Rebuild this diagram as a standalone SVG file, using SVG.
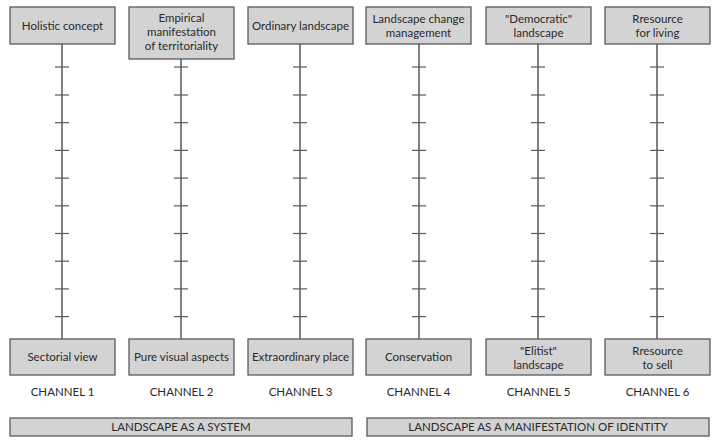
<svg xmlns="http://www.w3.org/2000/svg" width="713" height="445" viewBox="0 0 713 445">
  <style>
    .box { fill: #d3d3d3; stroke: #5a5a5a; stroke-width: 1.3; }
    .lbl { font-family: Lato, "Liberation Sans", sans-serif; font-size: 11.5px; fill: #2a2a2a; text-anchor: middle; }
    .axis { stroke: #4a4a4a; stroke-width: 1.4; fill: none; }
    .tick { stroke: #5a5a5a; stroke-width: 1.2; }
  </style>
  <defs>
    <g id="ticks">
      <line class="tick" x1="-7" y1="67" x2="7" y2="67"/>
      <line class="tick" x1="-7" y1="95" x2="7" y2="95"/>
      <line class="tick" x1="-7" y1="122.7" x2="7" y2="122.7"/>
      <line class="tick" x1="-7" y1="150.4" x2="7" y2="150.4"/>
      <line class="tick" x1="-7" y1="178.1" x2="7" y2="178.1"/>
      <line class="tick" x1="-7" y1="205.8" x2="7" y2="205.8"/>
      <line class="tick" x1="-7" y1="233.5" x2="7" y2="233.5"/>
      <line class="tick" x1="-7" y1="261.2" x2="7" y2="261.2"/>
      <line class="tick" x1="-7" y1="288.9" x2="7" y2="288.9"/>
      <line class="tick" x1="-7" y1="316.6" x2="7" y2="316.6"/>
    </g>
  </defs>
  <rect width="713" height="445" fill="#ffffff"/>

  <!-- channel axes with scale ticks -->
  <g id="connectors">
    <line class="axis" x1="62" y1="44" x2="62" y2="339"/>
    <line class="axis" x1="181" y1="59" x2="181" y2="339"/>
    <line class="axis" x1="300" y1="44" x2="300" y2="339"/>
    <line class="axis" x1="419" y1="44" x2="419" y2="339"/>
    <line class="axis" x1="538" y1="44" x2="538" y2="339"/>
    <line class="axis" x1="657" y1="44" x2="657" y2="339"/>
    <use href="#ticks" x="62"/>
    <use href="#ticks" x="181"/>
    <use href="#ticks" x="300"/>
    <use href="#ticks" x="419"/>
    <use href="#ticks" x="538"/>
    <use href="#ticks" x="657"/>
  </g>

  <!-- top poles -->
  <g id="top1"><rect class="box" x="10" y="7" width="105" height="37"/><text class="lbl" x="62.5" y="30">Holistic concept</text></g>
  <g id="top2"><rect class="box" x="129" y="7" width="105" height="52"/>
    <text class="lbl" x="181.5" y="22">Empirical</text><text class="lbl" x="181.5" y="36">manifestation</text><text class="lbl" x="181.5" y="50">of territoriality</text></g>
  <g id="top3"><rect class="box" x="248" y="7" width="105" height="37"/><text class="lbl" x="300.5" y="30">Ordinary landscape</text></g>
  <g id="top4"><rect class="box" x="366" y="7" width="105" height="37"/>
    <text class="lbl" x="418.5" y="23">Landscape change</text><text class="lbl" x="418.5" y="37">management</text></g>
  <g id="top5"><rect class="box" x="486" y="7" width="105" height="37"/>
    <text class="lbl" x="538.5" y="23">"Democratic"</text><text class="lbl" x="538.5" y="37">landscape</text></g>
  <g id="top6"><rect class="box" x="605" y="7" width="105" height="37"/>
    <text class="lbl" x="657.5" y="23">Rresource</text><text class="lbl" x="657.5" y="37">for living</text></g>

  <!-- bottom poles -->
  <g id="bot1"><rect class="box" x="10" y="339" width="105" height="36"/><text class="lbl" x="62.5" y="361">Sectorial view</text></g>
  <g id="bot2"><rect class="box" x="129" y="339" width="105" height="36"/><text class="lbl" x="181.5" y="361">Pure visual aspects</text></g>
  <g id="bot3"><rect class="box" x="248" y="339" width="105" height="36"/><text class="lbl" x="300.5" y="361">Extraordinary place</text></g>
  <g id="bot4"><rect class="box" x="366" y="339" width="105" height="36"/><text class="lbl" x="418.5" y="361">Conservation</text></g>
  <g id="bot5"><rect class="box" x="486" y="339" width="105" height="36"/>
    <text class="lbl" x="538.5" y="355">"Elitist"</text><text class="lbl" x="538.5" y="369">landscape</text></g>
  <g id="bot6"><rect class="box" x="605" y="339" width="105" height="36"/>
    <text class="lbl" x="657.5" y="355">Rresource</text><text class="lbl" x="657.5" y="369">to sell</text></g>

  <!-- channel captions -->
  <g id="channels">
    <text class="lbl" x="62.5" y="396">CHANNEL 1</text>
    <text class="lbl" x="181.5" y="396">CHANNEL 2</text>
    <text class="lbl" x="300.5" y="396">CHANNEL 3</text>
    <text class="lbl" x="418.5" y="396">CHANNEL 4</text>
    <text class="lbl" x="538.5" y="396">CHANNEL 5</text>
    <text class="lbl" x="657.5" y="396">CHANNEL 6</text>
  </g>

  <!-- grouping bars -->
  <g id="system"><rect class="box" x="10" y="418" width="342" height="18"/><text class="lbl" x="181" y="431">LANDSCAPE AS A SYSTEM</text></g>
  <g id="identity"><rect class="box" x="367" y="418" width="342" height="18"/><text class="lbl" x="538" y="431">LANDSCAPE AS A MANIFESTATION OF IDENTITY</text></g>
</svg>
